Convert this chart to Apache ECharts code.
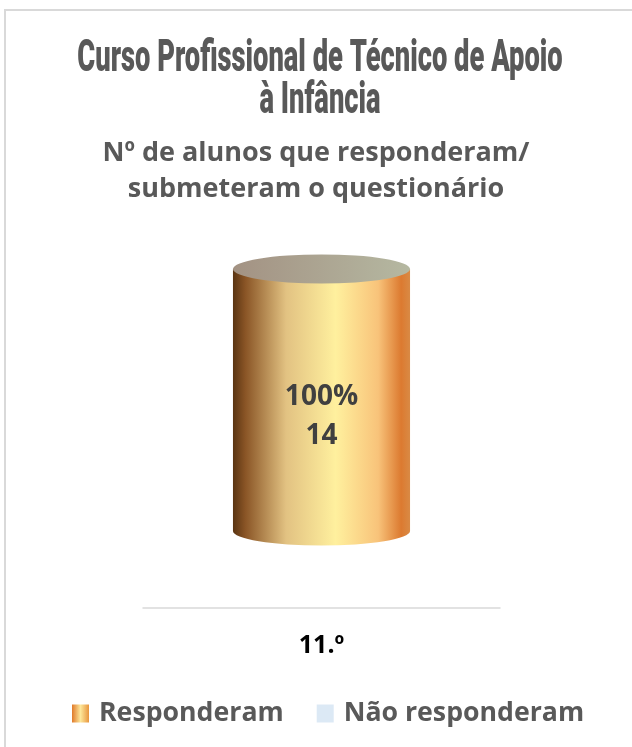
<!DOCTYPE html>
<html><head><meta charset="utf-8">
<script src="https://cdn.jsdelivr.net/npm/echarts@6/dist/echarts.min.js"></script>
<style>html,body{margin:0;padding:0;background:#fff}#c{width:632px;height:747px}</style>
</head><body><div id="c"></div>
<script>
const titleLines = ['Curso Profissional de Técnico de Apoio', 'à Infância'];
const subtitleLines = ['Nº de alunos que responderam/', 'submeteram o questionário'];
const categories = ['11.º'];
const responderam = [14];
const naoResponderam = [0];
const seriesNames = ['Responderam', 'Não responderam'];

const totals = categories.map((c, i) => responderam[i] + naoResponderam[i]);
const chart = echarts.init(document.getElementById('c'), null, {renderer: 'canvas'});

const sideGrad = {type: 'linear', x: 0, y: 0, x2: 1, y2: 0, colorStops: [
  {offset: 0, color: '#5a3412'}, {offset: 0.07, color: '#8a5526'}, {offset: 0.3, color: '#e2c282'},
  {offset: 0.58, color: '#fff09e'}, {offset: 0.82, color: '#f8c37a'}, {offset: 0.95, color: '#dc7a30'},
  {offset: 1, color: '#d98a45'}]};
const topGrad = {type: 'linear', x: 0, y: 0, x2: 1, y2: 0, colorStops: [
  {offset: 0, color: '#a39283'}, {offset: 1, color: '#b5b8a1'}]};
const legendGrad = {type: 'linear', x: 0, y: 0, x2: 1, y2: 0, colorStops: [
  {offset: 0, color: '#e07a2a'}, {offset: 0.5, color: '#fde79a'}, {offset: 1, color: '#e8963e'}]};

function makeRender(grad, top, showLabel) {
  return function (params, api) {
    const idx = api.value(0);
    const base = api.value(1);
    const val = api.value(2);
    if (!(val > 0)) return null;
    const p0 = api.coord([idx, base]);
    const p1 = api.coord([idx, base + val]);
    const w = api.size([1, 0])[0] * 0.496;
    const rx = w / 2, ry = rx * 0.165;
    const cx = p0[0], L = cx - rx, R = cx + rx, yt = p1[1], yb = p0[1];
    const pct = Math.round(val / totals[idx] * 100);
    const children = [
      {type: 'path', shape: {pathData: `M${L} ${yt} L${L} ${yb} A${rx} ${ry} 0 0 0 ${R} ${yb} L${R} ${yt} Z`},
        style: {fill: grad}},
      {type: 'path', shape: {pathData: `M${L} ${yt} A${rx} ${ry} 0 1 0 ${R} ${yt} A${rx} ${ry} 0 1 0 ${L} ${yt} Z`},
        style: {fill: top}}
    ];
    if (showLabel) {
      children.push({type: 'text', x: cx, y: (yt + yb) / 2 + 17, z2: 10,
        style: {text: pct + '%\n' + val, fontSize: 28, fontWeight: 'bold', fontFamily: 'Open Sans',
          fill: '#404040', align: 'center', verticalAlign: 'middle', lineHeight: 39}});
    }
    return {type: 'group', children};
  };
}

const titleFont = {fontSize: 45, fontWeight: 900, fontFamily: 'Roboto', fill: '#595959',
  align: 'center', verticalAlign: 'middle'};

const option = {
  backgroundColor: '#fff',
  animation: false,
  title: {
    text: subtitleLines.join('\n'), left: 'center', top: 135, padding: 0,
    textStyle: {fontSize: 27, fontWeight: 'bold', fontFamily: 'Open Sans', color: '#595959', lineHeight: 36}
  },
  graphic: [
    {type: 'rect', shape: {x: 5, y: 10, width: 1000, height: 1000}, style: {fill: 'none', stroke: '#d9d9d9', lineWidth: 2}, silent: true},
    {type: 'text', x: 320, y: 60, scaleX: 0.607, style: Object.assign({text: titleLines[0]}, titleFont)},
    {type: 'text', x: 320, y: 102, scaleX: 0.607, style: Object.assign({text: titleLines[1]}, titleFont)}
  ],
  legend: {
    data: seriesNames, left: 67, top: 695, icon: 'rect', itemWidth: 17, itemHeight: 18, itemGap: 33,
    textStyle: {fontSize: 26.7, fontWeight: 'bold', fontFamily: 'Open Sans', color: '#595959', padding: [0, 0, 0, 5]}
  },
  grid: {left: 143, right: 132, top: 269, bottom: 216},
  xAxis: {
    type: 'category', data: categories, offset: 77,
    axisLine: {onZero: false, lineStyle: {color: '#d9d9d9', width: 1.5}}, axisTick: {show: false},
    axisLabel: {margin: 25, fontSize: 25, fontWeight: 'bold', fontFamily: 'Open Sans', color: '#000'}
  },
  yAxis: {type: 'value', min: 0, max: Math.max(...totals), show: false},
  series: [
    {name: seriesNames[0], type: 'custom', itemStyle: {color: legendGrad},
      renderItem: makeRender(sideGrad, topGrad, true),
      encode: {x: 0, y: [1, 2]},
      data: categories.map((c, i) => [i, 0, responderam[i]])},
    {name: seriesNames[1], type: 'custom', itemStyle: {color: '#dce9f5'},
      renderItem: makeRender('#dce9f5', '#eaf2fa', true),
      encode: {x: 0, y: [1, 2]},
      data: categories.map((c, i) => [i, responderam[i], naoResponderam[i]])}
  ]
};
chart.setOption(option);
</script></body></html>
